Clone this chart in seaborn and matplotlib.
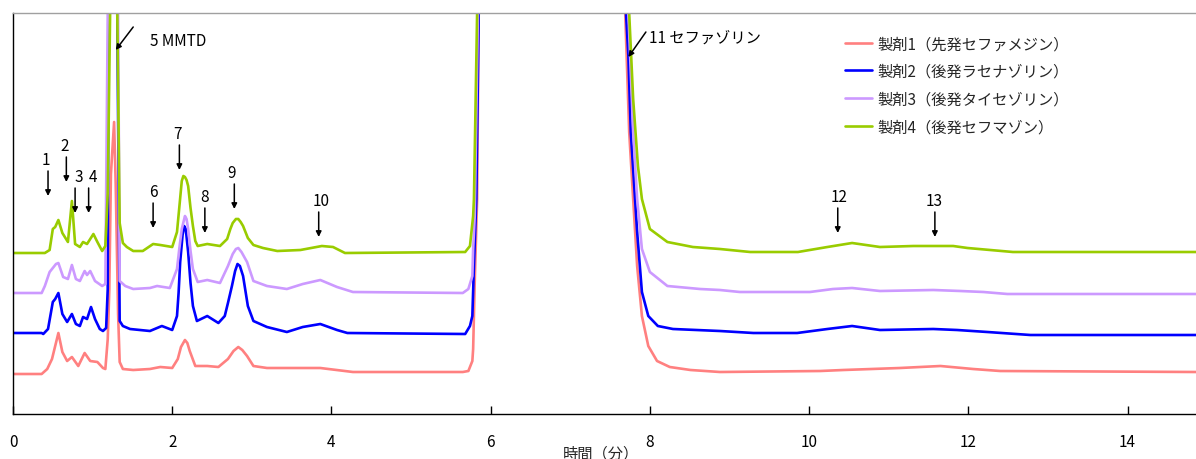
import matplotlib
matplotlib.use("Agg")
import matplotlib.pyplot as plt
import seaborn as sns
import pandas as pd

# ---------------- data (time in min, signal above each trace's own baseline) ----------------
series_names = ["製剤1（先発セファメジン）", "製剤2（後発ラセナゾリン）",
                "製剤3（後発タイセゾリン）", "製剤4（後発セフマゾン）"]
series_colors = ["#FF8080", "#0000FF", "#CC99FF", "#99CC00"]

red_t = [0, 0.36, 0.43, 0.49, 0.53, 0.57, 0.62, 0.68, 0.74, 0.82, 0.90, 0.97, 1.06, 1.13, 1.16,
         1.19, 1.21, 1.23, 1.27, 1.29, 1.32, 1.34, 1.38, 1.51, 1.72, 1.85, 2.00, 2.07, 2.11, 2.16,
         2.19, 2.22, 2.29, 2.44, 2.58, 2.70, 2.77, 2.83, 2.88, 2.94, 3.02, 3.19, 3.86, 4.27, 5.65,
         5.72, 5.77, 5.78, 5.80, 5.83, 5.85, 6.80, 7.69, 7.74, 7.84, 7.90, 7.98, 8.09, 8.25, 8.51,
         8.88, 10.14, 10.43, 11.14, 11.65, 12.06, 12.40, 14.86]
red_v = [0, 0, 5, 15, 28, 41, 22, 13, 17, 8, 21, 13, 12, 6, 5,
         35, 85, 200, 252, 190, 60, 12, 5, 4, 5, 7, 6, 15, 27, 34,
         31, 23, 8, 8, 7, 15, 23, 27, 24, 18, 8, 6, 6, 2, 2,
         3, 13, 25, 92, 175, 361, 1500, 361, 242, 108, 58, 28, 13, 7, 4,
         2, 3, 4, 6, 8, 5, 3, 2]

blue_t = [0, 0.36, 0.38, 0.44, 0.50, 0.53, 0.57, 0.62, 0.68, 0.74, 0.79, 0.84, 0.88, 0.93, 0.98,
          1.03, 1.09, 1.13, 1.17, 1.19, 1.20, 1.26, 1.31, 1.34, 1.38, 1.47, 1.72, 1.87, 2.00,
          2.06, 2.08, 2.10, 2.13, 2.15, 2.17, 2.20, 2.23, 2.26, 2.31, 2.44, 2.58, 2.66, 2.70,
          2.75, 2.79, 2.82, 2.85, 2.89, 2.92, 2.95, 3.02, 3.19, 3.44, 3.64, 3.86, 4.07, 4.20,
          5.68, 5.74, 5.77, 5.79, 5.82, 5.85, 6.80, 7.70, 7.73, 7.76, 7.84, 7.90, 7.98, 8.10,
          8.29, 8.88, 9.30, 9.85, 10.23, 10.54, 10.89, 11.56, 11.86, 12.24, 12.78, 14.86]
blue_v = [0, 0, -1, 4, 31, 34, 40, 19, 11, 19, 9, 7, 16, 14, 26,
          14, 4, 2, 5, 44, 320, 700, 320, 12, 7, 4, 2, 7, 3,
          17, 40, 71, 98, 107, 104, 81, 50, 27, 12, 17, 10, 17, 30,
          47, 62, 69, 67, 57, 42, 27, 12, 6, 1, 6, 9, 3, 0,
          -1, 7, 17, 67, 134, 320, 1500, 320, 277, 201, 101, 41, 17, 7,
          4, 2, 0, 0, 4, 7, 3, 4, 3, 1, -2, -2]

purple_t = [0, 0.36, 0.40, 0.46, 0.54, 0.57, 0.63, 0.69, 0.74, 0.79, 0.84, 0.90, 0.93, 0.97,
            1.03, 1.12, 1.16, 1.19, 1.26, 1.32, 1.34, 1.41, 1.51, 1.72, 1.81, 1.97, 2.06, 2.09,
            2.12, 2.16, 2.18, 2.20, 2.23, 2.26, 2.32, 2.44, 2.60, 2.70, 2.76, 2.80, 2.83, 2.87,
            2.94, 3.02, 3.19, 3.44, 3.64, 3.86, 4.07, 4.27, 5.65, 5.72, 5.77, 5.78, 5.80, 5.84,
            6.80, 7.73, 7.79, 7.84, 7.90, 8.00, 8.22, 8.63, 8.88, 9.13, 10.01, 10.30, 10.54,
            10.89, 11.56, 11.90, 12.19, 12.49, 14.86]
purple_v = [0, 0, 7, 21, 29, 30, 16, 14, 28, 14, 12, 22, 18, 22,
            12, 7, 9, 280, 600, 280, 12, 7, 4, 5, 7, 5, 24, 45,
            64, 77, 74, 64, 42, 24, 11, 13, 10, 27, 39, 44, 45, 41,
            31, 12, 7, 4, 9, 13, 6, 1, 0, 4, 17, 44, 77, 280,
            1500, 280, 161, 94, 44, 21, 7, 4, 3, 1, 1, 4, 5,
            2, 3, 2, 1, -1, -1]

green_t = [0, 0.40, 0.46, 0.50, 0.53, 0.57, 0.62, 0.69, 0.74, 0.78, 0.84, 0.88, 0.93, 1.01,
           1.06, 1.12, 1.16, 1.19, 1.22, 1.265, 1.31, 1.34, 1.38, 1.43, 1.51, 1.63, 1.76, 1.85,
           2.00, 2.06, 2.10, 2.12, 2.14, 2.16, 2.18, 2.20, 2.23, 2.26, 2.29, 2.32, 2.44, 2.60,
           2.69, 2.73, 2.76, 2.80, 2.83, 2.86, 2.89, 2.95, 3.02, 3.14, 3.32, 3.61, 3.88, 4.02,
           4.17, 5.68, 5.74, 5.78, 5.79, 5.83, 6.80, 7.74, 7.79, 7.85, 7.90, 8.00, 8.22, 8.54,
           8.88, 9.26, 9.86, 10.23, 10.54, 10.89, 11.31, 11.81, 11.99, 12.56, 14.86]
green_v = [0, 0, 3, 24, 26, 33, 20, 11, 52, 9, 6, 11, 9, 19,
           11, 2, 7, 60, 240, 520, 240, 30, 10, 6, 2, 2, 9, 8,
           6, 21, 55, 72, 77, 76, 73, 67, 45, 27, 12, 7, 9, 7,
           14, 24, 30, 34, 34, 31, 27, 15, 8, 5, 2, 3, 7, 6,
           0, 1, 7, 37, 54, 240, 1500, 240, 154, 87, 54, 24, 11, 6,
           4, 1, 1, 6, 10, 6, 7, 7, 5, 1, 1]

peak_labels = ["1", "2", "3", "4", "6", "7", "8", "9", "10", "12", "13"]
peak_rt = [0.44, 0.67, 0.78, 0.95, 1.76, 2.09, 2.41, 2.78, 3.84, 10.36, 11.58]
x_ticks = [0, 2, 4, 6, 8, 10, 12, 14]
x_label = "時間（分）"

# ---------------- layout ----------------
trace_offsets = [40, 81, 121, 161]
arrow_top = [243, 257, 226, 226, 211, 269, 206, 230, 202, 206, 202]
arrow_len = 25
label_dx = [-0.03, -0.02, 0.05, 0.06, 0.0, -0.02, -0.01, -0.04, 0.03, 0.02, -0.01]

sns.set_theme(style="white")
plt.rcParams["font.family"] = ["Noto Sans CJK JP", "DejaVu Sans"]

frames = []
for name, t, v, off in zip(series_names,
                           [red_t, blue_t, purple_t, green_t],
                           [red_v, blue_v, purple_v, green_v],
                           trace_offsets):
    frames.append(pd.DataFrame({"time": t, "signal": [x + off for x in v], "series": name}))
df = pd.concat(frames, ignore_index=True)

fig = plt.figure(figsize=(11.96, 4.6), dpi=100)
ax = fig.add_axes([13 / 1196, 45 / 460, 1183 / 1196, 401 / 460])

sns.lineplot(data=df, x="time", y="signal", hue="series", hue_order=series_names,
             palette=dict(zip(series_names, series_colors)), estimator=None, sort=False,
             linewidth=1.9, ax=ax, legend=False)

ax.set_xlim(0, 14.86)
ax.set_ylim(0, 401)
ax.set_xticks(x_ticks)
ax.set_xticklabels([str(v) for v in x_ticks])
ax.set_yticks([])
ax.set_ylabel("")
ax.set_xlabel(x_label, fontsize=11)
ax.xaxis.set_label_coords(0.497, -0.075)
ax.xaxis.label.set_va("top")
ax.tick_params(axis="x", direction="in", length=6, width=1, pad=14, labelsize=11, colors="black")
ax.tick_params(axis="x", bottom=True)

for s in ["left", "bottom"]:
    ax.spines[s].set_color("black")
    ax.spines[s].set_linewidth(1.0)
ax.spines["top"].set_color("#A0A0A0")
ax.spines["top"].set_linewidth(1.0)
ax.spines["right"].set_visible(False)

# peak arrows
for lab, rt, top, dx in zip(peak_labels, peak_rt, arrow_top, label_dx):
    ax.annotate("", xy=(rt, top - arrow_len), xytext=(rt, top),
                arrowprops=dict(arrowstyle="-|>", color="black", lw=1.1, mutation_scale=8,
                                shrinkA=0, shrinkB=0))
    ax.text(rt + dx, top + 3, lab, ha="center", va="bottom", fontsize=11, color="black")

ax.annotate("", xy=(1.29, 364), xytext=(1.51, 387),
            arrowprops=dict(arrowstyle="-|>", color="black", lw=1.1, mutation_scale=8,
                            shrinkA=0, shrinkB=0))
ax.text(1.72, 373, "5 MMTD", ha="left", va="center", fontsize=11, color="black")
ax.annotate("", xy=(7.73, 357), xytext=(7.95, 382),
            arrowprops=dict(arrowstyle="-|>", color="black", lw=1.1, mutation_scale=8,
                            shrinkA=0, shrinkB=0))
ax.text(7.99, 377, "11 セファゾリン", ha="left", va="center", fontsize=11, color="black")

handles = [plt.Line2D([], [], color=c, lw=1.9) for c in series_colors]
leg = ax.legend(handles, series_names, loc="upper left", bbox_to_anchor=(0.703, 0.945),
                frameon=False, fontsize=11, handlelength=1.8, handletextpad=0.35,
                labelspacing=0.7, borderpad=0, borderaxespad=0)

fig.savefig("out.png", dpi=100)
